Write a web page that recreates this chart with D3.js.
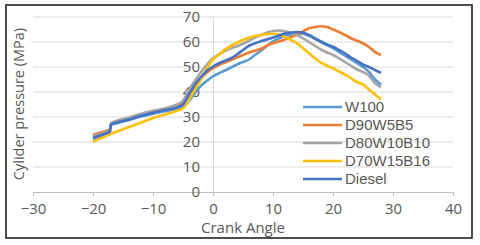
<!DOCTYPE html>
<html>
<head>
<meta charset="utf-8">
<script src="https://cdn.jsdelivr.net/npm/d3@7"></script>
<style>
  body { margin: 0; background: #fff; }
  text { font-family: "Open Sans", sans-serif; fill: #595959; }
</style>
</head>
<body>
<div id="chart"></div>
<script>
// crank angle, shared by all series
const angle = [-20, -19, -18, -17.2, -17, -16, -14, -12, -10, -8, -6, -5, -4, -3, -2, -1,
  0, 1, 2, 3, 4, 5, 6, 7, 8, 9, 10, 11, 12, 13, 14, 15, 16, 17, 18, 19, 20,
  21, 22, 23, 24, 25, 26, 27, 28];

const w100 = [21.2, 22, 22.8, 23.6, 26.8, 27.5, 28.8, 30.2, 31.3, 32.3, 33.3, 34, 36.5, 39.5, 42.5, 44.5,
  46.3, 47.5, 48.6, 49.8, 51, 52, 53, 54.8, 56.5, 58.5, 60.3, 61.5, 62.5, 63, 63.5, 63.3, 62.5, 61.3, 60, 58.8, 57.5,
  56, 54.5, 53, 51.5, 50, 48, 45, 43];
const d90w5b5 = [22.8, 23.6, 24.3, 25, 27.3, 28.2, 29.5, 31, 32.2, 33.2, 34.3, 35.5, 39, 42.5, 45.5, 47.8,
  49.5, 50.8, 51.8, 52.8, 53.8, 54.8, 55.8, 56.5, 57.3, 58.5, 59.5, 60.2, 61, 62, 63, 64.2, 65.5, 66, 66.3, 66, 65,
  64, 62.8, 61.5, 60.5, 59.5, 58, 56, 54.8];
const d80w10b10 = [22.2, 23, 23.8, 24.5, 27.5, 28.5, 29.8, 31.3, 32.5, 33.5, 35, 36.5, 41, 44.5, 48, 51,
  53.5, 55, 56.5, 57.5, 58.3, 59.3, 60.5, 61.8, 62.8, 63.8, 64.4, 64.6, 64.3, 63.6, 62.8, 61.5, 60, 58.5, 57, 55.8, 54.8,
  53.5, 52, 50.5, 49, 48, 46.5, 43.5, 42];
const d70w15b16 = [20.2, 21.2, 22.2, 23, 23.3, 24.2, 26, 27.8, 29.6, 31, 32.5, 33.5, 37, 41, 45, 49.5,
  53, 55, 57, 58.5, 59.7, 60.8, 61.7, 62.4, 62.8, 63.2, 63.3, 63, 62, 60.8, 59.5, 57.5, 55.5, 53.5, 51.7, 50.5, 49.5,
  48.2, 47, 45.5, 44, 43, 41, 39, 37];
const diesel = [21.6, 22.5, 23.3, 24.2, 27, 27.8, 29, 30.5, 31.7, 32.8, 33.8, 35, 39, 43, 46, 48.5,
  50.2, 51.5, 52.5, 53.5, 55, 56.8, 58.5, 59.5, 60.3, 61, 61.8, 62.6, 63.4, 63.8, 64, 63.8, 62.8, 61.5, 60.2, 59, 58.1,
  56.8, 55.5, 53.8, 52.5, 51, 50, 48.8, 47.7];

const seriesNames = ["W100", "D90W5B5", "D80W10B10", "D70W15B16", "Diesel"];
const seriesValues = [w100, d90w5b5, d80w10b10, d70w15b16, diesel];
const colors = ["#5b9bd5", "#ed7d31", "#a5a5a5", "#ffc000", "#4472c4"];

const xTicks = [-30, -20, -10, 0, 10, 20, 30, 40];
const yTicks = [0, 10, 20, 30, 40, 50, 60, 70];

const width = 480, height = 245;
const svg = d3.select("#chart").append("svg")
  .attr("width", width)
  .attr("height", height);

// outer frame
svg.append("rect")
  .attr("x", 6).attr("y", 5)
  .attr("width", 466).attr("height", 233)
  .attr("fill", "#fff")
  .attr("stroke", "#222")
  .attr("stroke-width", 1.6);

const x = d3.scaleLinear().domain([-30, 40]).range([33, 453]);
const y = d3.scaleLinear().domain([0, 70]).range([192, 17]);

// gridlines
svg.append("g")
  .selectAll("line")
  .data(yTicks.filter(d => d > 0))
  .enter()
  .append("line")
  .attr("x1", x(-30)).attr("x2", x(40))
  .attr("y1", d => y(d)).attr("y2", d => y(d))
  .attr("stroke", "#d9d9d9")
  .attr("stroke-width", 1);

// x axis, with ticks down
const xAxis = svg.append("g")
  .attr("transform", `translate(0,${y(0)})`)
  .call(d3.axisBottom(x).tickValues(xTicks).tickSize(4).tickSizeOuter(0).tickPadding(7));
xAxis.select(".domain").attr("stroke", "#bfbfbf");
xAxis.selectAll(".tick line").attr("stroke", "#bfbfbf");
xAxis.selectAll(".tick text")
  .attr("font-size", 15)
  .attr("font-family", "Open Sans")
  .attr("fill", "#595959");

// y axis sits at crank angle 0
const yAxis = svg.append("g")
  .attr("transform", `translate(${x(0)},0)`)
  .call(d3.axisLeft(y).tickValues(yTicks).tickSize(0).tickPadding(13));
yAxis.select(".domain").attr("stroke", "#d9d9d9");
yAxis.selectAll(".tick text")
  .attr("font-size", 15)
  .attr("font-family", "Open Sans")
  .attr("fill", "#595959");

// lines
const line = d3.line()
  .x((d, i) => x(angle[i]))
  .y(d => y(d))
  .curve(d3.curveMonotoneX);

svg.append("g")
  .selectAll("path")
  .data(seriesValues)
  .enter()
  .append("path")
  .attr("d", line)
  .attr("fill", "none")
  .attr("stroke", (d, i) => colors[i])
  .attr("stroke-width", 2.6)
  .attr("stroke-linejoin", "round");

// axis titles
svg.append("text")
  .attr("x", x(5)).attr("y", 233)
  .attr("text-anchor", "middle")
  .attr("font-size", 15)
  .text("Crank Angle");

svg.append("text")
  .attr("transform", `translate(24,104) rotate(-90)`)
  .attr("text-anchor", "middle")
  .attr("font-size", 14.5)
  .text("Cylider pressure (MPa)");

// legend
const legend = svg.append("g")
  .selectAll("g")
  .data(seriesNames)
  .enter()
  .append("g")
  .attr("transform", (d, i) => `translate(303,${107 + i * 18})`);
legend.append("line")
  .attr("x1", 0).attr("x2", 39)
  .attr("stroke", (d, i) => colors[i])
  .attr("stroke-width", 2.6);
legend.append("text")
  .attr("x", 42).attr("dy", "0.35em")
  .attr("font-size", 15)
  .style("font-family", "'Liberation Sans', Arial, sans-serif")
  .text(d => d);
</script>
</body>
</html>
